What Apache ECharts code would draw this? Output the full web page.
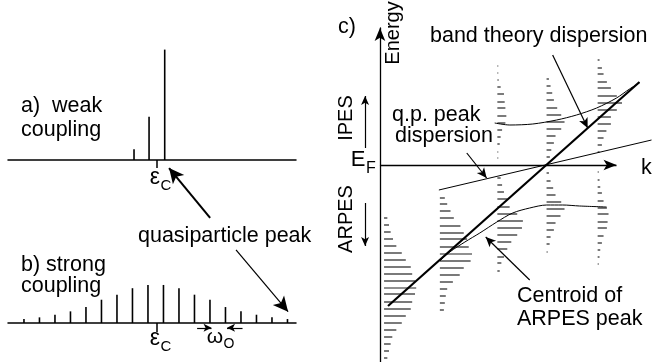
<!DOCTYPE html>
<html>
<head>
<meta charset="utf-8">
<script src="https://cdn.jsdelivr.net/npm/echarts@6/dist/echarts.min.js"></script>
<style>
  html, body { margin: 0; padding: 0; background: #fff; }
  #main { width: 652px; height: 362px; }
</style>
</head>
<body>
<div id="main"></div>
<script>
var chartDom = document.getElementById("main");
var myChart = echarts.init(chartDom, null, { renderer: "canvas" });
var option;

// a) weak coupling: stick position (in units of w0 from centre) and height
const weakPos = [-1.4, -0.43, 0.58];
const weakHeight = [0.09, 0.36, 0.92];

// b) strong coupling
const strongPos = [-8.5, -7.5, -6.5, -5.5, -4.5, -3.5, -2.5, -1.5, -0.5,
  0.5, 1.5, 2.5, 3.5, 4.5, 5.5, 6.5, 7.5, 8.5];
const strongHeight = [0.033, 0.047, 0.069, 0.097, 0.133, 0.194, 0.236, 0.29, 0.317,
  0.317, 0.29, 0.236, 0.194, 0.133, 0.097, 0.069, 0.047, 0.033];
const epsC = 0.07;

// c) spectra at five k points: energy of each stick and its length
const colK = [1.3, 24.9, 49.2, 70.0, 91.6];
const colE = [
  [-0.53, -0.6, -0.67, -0.74, -0.81, -0.88, -0.95, -1.02, -1.09, -1.16, -1.23,
    -1.29, -1.37, -1.44, -1.51, -1.58, -1.65, -1.72, -1.79, -1.86, -1.93],
  [-0.33, -0.39, -0.46, -0.53, -0.61, -0.68, -0.74, -0.82, -0.89, -0.96, -1.03,
    -1.1, -1.17, -1.24, -1.31, -1.38, -1.45],
  [0.99, 0.92, 0.85, 0.78, 0.71, 0.63, 0.57, 0.49, 0.42, 0.35, 0.28, 0.21, 0.13, 0.07,
    -0.13, -0.2, -0.27, -0.34, -0.42, -0.49, -0.56, -0.63, -0.7, -0.77, -0.84, -0.92, -0.98, -1.06],
  [0.86, 0.79, 0.72, 0.65, 0.57, 0.5, 0.43, 0.36, 0.29, 0.22, 0.15, 0.08,
    -0.08, -0.16, -0.23, -0.3, -0.37, -0.44, -0.51, -0.58, -0.65, -0.72, -0.79, -0.87],
  [1.05, 0.97, 0.91, 0.83, 0.77, 0.69, 0.62, 0.55, 0.48, 0.41, 0.34, 0.27, 0.2, 0.13,
    -0.07, -0.15, -0.22, -0.28, -0.36, -0.43, -0.49, -0.57, -0.63, -0.71, -0.78, -0.85, -0.92, -0.99],
];
const colLen = [
  [1.4, 2.1, 2.8, 3.8, 5.2, 7.5, 9.2, 11.3, 11.9, 13.1, 13.6,
    13.1, 11.9, 11.3, 9.2, 7.5, 5.2, 3.5, 2.8, 2.1, 1.4],
  [2.1, 3.1, 4.5, 5.9, 8.7, 10.1, 11.5, 12.2, 13.6, 13.0, 10.1,
    8.4, 5.5, 3.1, 2.5, 2.1, 1.7],
  [0.4, 0.4, 0.6, 1.4, 2.8, 3.1, 3.4, 3.8, 3.4, 2.0, 1.4, 1.0, 0.4, 0.4,
    1.4, 2.0, 2.8, 4.2, 5.2, 8.4, 10.8, 10.4, 8.4, 5.9, 4.2, 2.8, 1.7, 1.0],
  [1.0, 1.7, 2.4, 3.1, 4.5, 6.2, 7.6, 6.2, 3.8, 3.1, 2.0, 1.4,
    1.0, 1.7, 2.8, 3.8, 6.2, 7.6, 5.9, 3.8, 3.1, 1.7, 1.3, 0.5],
  [0.8, 1.8, 2.5, 3.9, 5.6, 8.1, 10.3, 8.1, 5.6, 5.6, 3.7, 2.5, 1.8, 0.8,
    0.5, 0.8, 1.1, 1.8, 2.5, 3.9, 4.6, 4.2, 3.9, 2.5, 1.8, 1.1, 0.8, 0.5],
];

// dispersion lines in panel c
const bandK = [3.4, 109.7];
const bandE = [-1.41, 0.83];
const qpK = [24.9, 114.8];
const qpE = [-0.25, 0.25];
const arpesK = [25.3, 29.5, 35.9, 42.2, 49.4, 56.1, 63.3, 70.5, 77.2, 84.4, 95.8];
const arpesE = [-0.96, -0.87, -0.77, -0.68, -0.57, -0.48, -0.43, -0.4, -0.4, -0.41, -0.42];
const ipesK = [48.5, 54.9, 64.6, 74.7, 83.1, 91.6, 100, 105.5, 109.7];
const ipesE = [0.42, 0.4, 0.41, 0.45, 0.5, 0.57, 0.67, 0.76, 0.82];

const FONT = "'Liberation Sans', Arial, Helvetica, sans-serif";
const zip = (a, b) => a.map((v, i) => [v, b[i]]);

const sticksData = [];
colK.forEach((k, c) => {
  colE[c].forEach((e, i) => sticksData.push([k, e, colLen[c][i]]));
});

function vStick(params, api) {
  const p0 = api.coord([api.value(0), 0]);
  const p1 = api.coord([api.value(0), api.value(1)]);
  return {
    type: "line",
    shape: { x1: p0[0], y1: p0[1], x2: p1[0], y2: p1[1] },
    style: { stroke: "#000", lineWidth: 1.6 },
  };
}
function hStick(params, api) {
  const p0 = api.coord([api.value(0), api.value(1)]);
  const p1 = api.coord([api.value(0) + api.value(2), api.value(1)]);
  return {
    type: "line",
    shape: { x1: p0[0] + 1, y1: p0[1], x2: p1[0] + 1, y2: p1[1] },
    style: { stroke: "#222", lineWidth: 1.2 },
  };
}
function arrow(from, to, size) {
  return [{ coord: from, symbol: "none" }, { coord: to, symbol: "arrow", symbolSize: size }];
}
function text(str, x, y, size, opts) {
  return Object.assign({
    type: "text",
    x: x,
    y: y,
    silent: true,
    style: {
      text: str,
      font: size + "px " + FONT,
      fill: "#000",
      textAlign: (opts && opts.align) || "left",
      align: (opts && opts.align) || "left",
      textVerticalAlign: "middle",
      verticalAlign: "middle",
    },
  }, opts && opts.rotation ? { rotation: opts.rotation } : {});
}

const hiddenY = { show: false };
const markStyle = { color: "#000", width: 1.2, type: "solid" };
const noAxisBits = { axisTick: { show: false }, axisLabel: { show: false }, splitLine: { show: false } };

option = {
  backgroundColor: "#fff",
  animation: false,
  grid: [
    { left: 8, width: 288, top: 40, height: 192 },
    { left: 8, width: 288, top: 203, height: 132 },
    { left: 361.04, width: 291.51, top: 28, height: 334 },
  ],
  xAxis: [
    {
      gridIndex: 0, type: "value", min: -9.53, max: 9.05,
      axisLine: { show: true, onZero: true, lineStyle: { color: "#000", width: 1.5 } },
      axisTick: { show: true, customValues: [epsC], length: 8, inside: false, lineStyle: { color: "#000", width: 1.5 } },
      axisLabel: { show: false }, splitLine: { show: false },
    },
    {
      gridIndex: 1, type: "value", min: -9.53, max: 9.05,
      axisLine: { show: true, onZero: true, lineStyle: { color: "#000", width: 1.5 } },
      axisTick: { show: true, customValues: [epsC], length: 9, inside: false, lineStyle: { color: "#000", width: 1.5 } },
      axisLabel: { show: false }, splitLine: { show: false },
    },
    Object.assign({ gridIndex: 2, type: "value", min: -8, max: 115, axisLine: { show: false } }, noAxisBits),
  ],
  yAxis: [
    Object.assign({ gridIndex: 0, type: "value", min: -0.6, max: 1 }, hiddenY),
    Object.assign({ gridIndex: 1, type: "value", min: -0.1, max: 1 }, hiddenY),
    Object.assign({
      gridIndex: 2, type: "value", min: -1.97, max: 1.37,
      axisLine: { show: true, onZero: true, symbol: ["none", "arrow"], symbolSize: [8, 13],
        lineStyle: { color: "#000", width: 1.3 } },
    }, noAxisBits),
  ],
  series: [
    {
      type: "custom", xAxisIndex: 0, yAxisIndex: 0, clip: false,
      renderItem: vStick, data: zip(weakPos, weakHeight),
    },
    {
      type: "custom", xAxisIndex: 1, yAxisIndex: 1, clip: false,
      renderItem: vStick, data: zip(strongPos, strongHeight),
    },
    {
      type: "custom", xAxisIndex: 2, yAxisIndex: 2, clip: false,
      renderItem: hStick, data: sticksData,
    },
    {
      type: "line", xAxisIndex: 0, yAxisIndex: 0, data: [], clip: false, silent: true,
      markLine: {
        silent: true, label: { show: false }, lineStyle: Object.assign({}, markStyle, { width: 2 }),
        data: [arrow([3.51, -0.483], [0.86, -0.067], [11, 15])],
      },
    },
    {
      type: "line", xAxisIndex: 1, yAxisIndex: 1, data: [], clip: false, silent: true,
      markLine: {
        silent: true, label: { show: false }, lineStyle: markStyle,
        data: [
          arrow([5.18, 0.61], [8.54, 0.094], [11, 15]),
          arrow([2.67, -0.04], [3.6, -0.04], [6, 8]),
          arrow([5.6, -0.04], [4.6, -0.04], [6, 8]),
        ],
      },
    },
    {
      type: "line", xAxisIndex: 2, yAxisIndex: 2, data: zip(bandK, bandE), clip: false,
      symbol: "none", silent: true, lineStyle: { color: "#000", width: 2.2 },
      markLine: {
        silent: true, label: { show: false }, lineStyle: markStyle,
        data: [
          // k axis along the Fermi level
          [{ coord: [0, 0], symbol: "none", lineStyle: { width: 1.3 } },
            { coord: [100, 0], symbol: "arrow", symbolSize: [8, 13] }],
          arrow([73.0, 1.1], [87.8, 0.37], [7, 10]),
          arrow([36.7, 0.12], [45.1, -0.13], [7, 10]),
          arrow([63.3, -1.15], [44.7, -0.72], [7, 10]),
          arrow([-6.3, 0.17], [-6.3, 0.69], [6, 9]),
          arrow([-6.3, -0.38], [-6.3, -0.81], [6, 9]),
        ],
      },
    },
    {
      type: "line", xAxisIndex: 2, yAxisIndex: 2, data: zip(qpK, qpE), clip: false,
      symbol: "none", silent: true, lineStyle: { color: "#000", width: 1 },
    },
    {
      type: "line", xAxisIndex: 2, yAxisIndex: 2, data: zip(arpesK, arpesE), clip: false,
      symbol: "none", silent: true, smooth: 0.3, lineStyle: { color: "#000", width: 1 },
    },
    {
      type: "line", xAxisIndex: 2, yAxisIndex: 2, data: zip(ipesK, ipesE), clip: false,
      symbol: "none", silent: true, smooth: 0.3, lineStyle: { color: "#000", width: 1 },
    },
  ],
  graphic: {
    elements: [
      text("a)  weak", 21, 106, 21.5),
      text("coupling", 21, 130, 21.5),
      text("b) strong", 21, 265, 21.5),
      text("coupling", 21, 286, 21.5),
      text("quasiparticle peak", 138, 236, 21.5),
      text("\u03b5", 155, 178, 23, { align: "center" }),
      text("C", 166, 186, 15, { align: "center" }),
      text("\u03b5", 155, 339, 23, { align: "center" }),
      text("C", 166, 347, 15, { align: "center" }),
      text("\u03c9", 215, 337, 21, { align: "center" }),
      text("O", 229, 344, 14, { align: "center" }),
      text("c)", 338, 27, 21.5),
      text("Energy", 393, 33, 20, { align: "center", rotation: Math.PI / 2 }),
      text("IPES", 346, 118, 20, { align: "center", rotation: Math.PI / 2 }),
      text("ARPES", 346, 219, 20, { align: "center", rotation: Math.PI / 2 }),
      text("E", 358, 160, 22, { align: "center" }),
      text("F", 371, 169, 16, { align: "center" }),
      text("k", 641, 168, 21.5),
      text("band theory dispersion", 430, 36, 21.5),
      text("q.p. peak", 392, 115, 21.5),
      text("dispersion", 395, 136, 21.5),
      text("Centroid of", 517, 296, 21.5),
      text("ARPES peak", 517, 319, 21.5),
    ],
  },
};

option && myChart.setOption(option);
</script>
</body>
</html>
